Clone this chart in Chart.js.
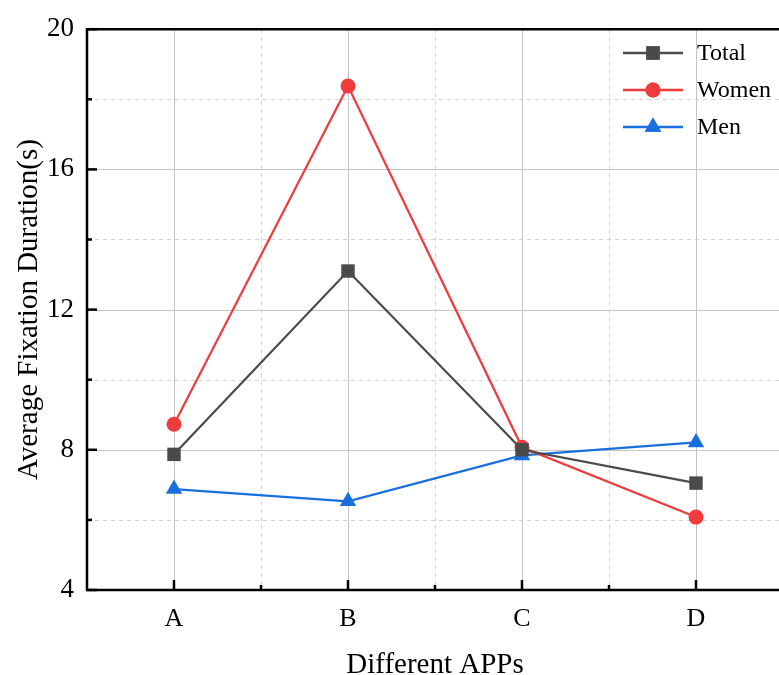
<!DOCTYPE html>
<html>
<head>
<meta charset="utf-8">
<script src="https://cdn.jsdelivr.net/npm/chart.js@4/dist/chart.umd.min.js"></script>
<style>
html,body{margin:0;padding:0;background:#fff;overflow:hidden;}
#wrap{width:800px;height:675px;position:relative;}
</style>
</head>
<body>
<div id="wrap"><canvas id="c"></canvas></div>
<script>
const categories = ['A', 'B', 'C', 'D'];
const totalValues = [7.87, 13.1, 8.0, 7.05];
const womenValues = [8.73, 18.38, 8.07, 6.08];
const menValues = [6.88, 6.53, 7.84, 8.21];
const yTicks = [4, 8, 12, 16, 20];
const yMinor = [6, 10, 14, 18];
const seriesNames = ['Total', 'Women', 'Men'];

const FONT = "'Liberation Serif', 'Times New Roman', serif";
const colors = ['#4a4a4a', '#ef3b3c', '#1a6fdf'];
const styles = ['rect', 'circle', 'triangle'];
const radii = [9.5, 7.5, 9.5];

const framePlugin = {
  id: 'frame',
  beforeDatasetsDraw(chart) {
    const {ctx, chartArea: a, scales: {x, y}} = chart;
    ctx.save();
    ctx.strokeStyle = '#d2d2d2';
    ctx.lineWidth = 1;
    ctx.setLineDash([4, 4]);
    yMinor.forEach(v => {
      const py = Math.round(y.getPixelForValue(v)) + 0.5;
      ctx.beginPath(); ctx.moveTo(a.left, py); ctx.lineTo(a.right, py); ctx.stroke();
    });
    for (let i = 0; i < categories.length; i++) {
      const px = Math.round(x.getPixelForValue(i + 0.5)) + 0.5;
      ctx.beginPath(); ctx.moveTo(px, a.top); ctx.lineTo(px, a.bottom); ctx.stroke();
    }
    ctx.setLineDash([]);
    ctx.strokeStyle = '#c4c4c4';
    yTicks.forEach(v => {
      const py = Math.round(y.getPixelForValue(v)) + 0.5;
      ctx.beginPath(); ctx.moveTo(a.left, py); ctx.lineTo(a.right, py); ctx.stroke();
    });
    categories.forEach((c, i) => {
      const px = Math.round(x.getPixelForValue(i)) + 0.5;
      ctx.beginPath(); ctx.moveTo(px, a.top); ctx.lineTo(px, a.bottom); ctx.stroke();
    });
    ctx.restore();
  },
  afterDatasetsDraw(chart) {
    const {ctx, chartArea: a, scales: {x, y}} = chart;
    ctx.save();
    ctx.strokeStyle = '#000';
    ctx.lineWidth = 2.5;
    ctx.beginPath();
    ctx.moveTo(a.right + 20, a.top); ctx.lineTo(a.left, a.top);
    ctx.lineTo(a.left, a.bottom); ctx.lineTo(a.right + 20, a.bottom);
    ctx.stroke();
    yTicks.forEach(v => {
      const py = y.getPixelForValue(v);
      ctx.beginPath(); ctx.moveTo(a.left, py); ctx.lineTo(a.left + 10, py); ctx.stroke();
    });
    yMinor.forEach(v => {
      const py = y.getPixelForValue(v);
      ctx.beginPath(); ctx.moveTo(a.left, py); ctx.lineTo(a.left + 5, py); ctx.stroke();
    });
    categories.forEach((c, i) => {
      const px = x.getPixelForValue(i);
      ctx.beginPath(); ctx.moveTo(px, a.bottom); ctx.lineTo(px, a.bottom - 10); ctx.stroke();
      const pm = x.getPixelForValue(i + 0.5);
      ctx.beginPath(); ctx.moveTo(pm, a.bottom); ctx.lineTo(pm, a.bottom - 5); ctx.stroke();
    });
    const lx0 = 623, lx1 = 683, tx = 697;
    const rows = [53, 90, 127];
    chart.data.datasets.forEach((ds, i) => {
      const ry = rows[i];
      ctx.strokeStyle = ds.borderColor;
      ctx.lineWidth = 2.5;
      ctx.beginPath(); ctx.moveTo(lx0, ry); ctx.lineTo(lx1, ry); ctx.stroke();
      ctx.fillStyle = ds.backgroundColor;
      Chart.helpers.drawPoint(ctx, {pointStyle: ds.pointStyle, radius: ds.pointRadius, borderWidth: 0, rotation: 0}, (lx0 + lx1) / 2, ry);
      ctx.fill();
      ctx.fillStyle = '#000';
      ctx.font = '24px ' + FONT;
      ctx.textBaseline = 'middle';
      ctx.textAlign = 'left';
      ctx.fillText(ds.label, tx, ry + 1);
    });
    ctx.restore();
  }
};

const datasets = [totalValues, womenValues, menValues].map((vals, i) => ({
  label: seriesNames[i],
  data: vals,
  borderColor: colors[i],
  backgroundColor: colors[i],
  pointBackgroundColor: colors[i],
  pointBorderColor: colors[i],
  pointBorderWidth: 0,
  pointStyle: styles[i],
  pointRadius: radii[i],
  pointHoverRadius: radii[i],
  borderWidth: 2.2,
  tension: 0,
  clip: false
}));

new Chart(document.getElementById('c'), {
  type: 'line',
  data: { labels: categories, datasets },
  options: {
    responsive: true,
    maintainAspectRatio: false,
    animation: false,
    layout: { padding: { left: 0, top: 28, right: 17, bottom: 0 } },
    plugins: { legend: { display: false }, tooltip: { enabled: false } },
    scales: {
      x: {
        type: 'category',
        offset: true,
        grid: { display: false, drawTicks: false },
        border: { display: false },
        ticks: { color: '#000', font: { family: FONT, size: 26 }, padding: 14 },
        title: { display: true, text: 'Different APPs', color: '#000', font: { family: FONT, size: 29, lineHeight: 1.2 }, padding: { top: 0, bottom: -8 } },
        afterFit: s => { s.height = 85; }
      },
      y: {
        min: 4, max: 20,
        grid: { display: false, drawTicks: false },
        border: { display: false },
        ticks: { stepSize: 4, color: '#000', font: { family: FONT, size: 27 }, padding: 13 },
        title: { display: true, text: 'Average Fixation Duration(s)', color: '#000', font: { family: FONT, size: 29, lineHeight: 1.2 }, padding: { top: 12, bottom: 0 } },
        afterFit: s => { s.width = 87; }
      }
    }
  },
  plugins: [framePlugin]
});
</script>
</body>
</html>
